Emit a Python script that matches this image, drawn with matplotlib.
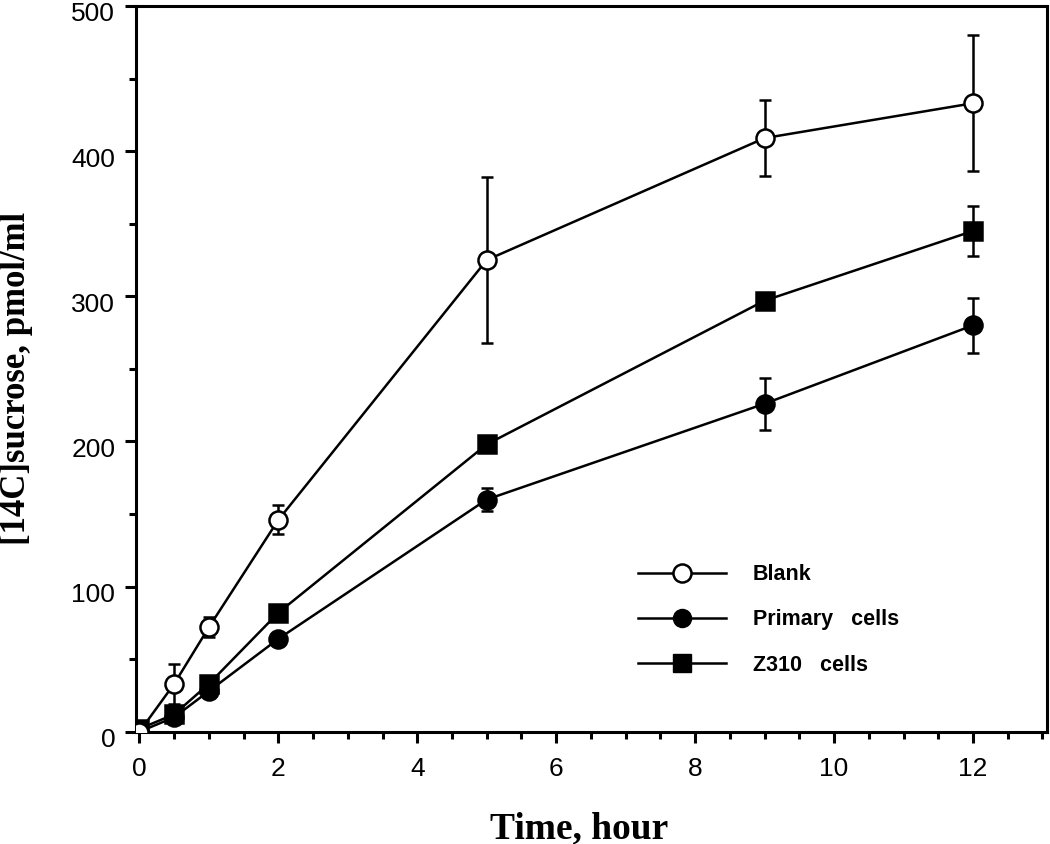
import matplotlib
matplotlib.use("Agg")
import matplotlib.pyplot as plt
import matplotlib.transforms as mtransforms
import numpy as np
from matplotlib.ticker import MultipleLocator
from matplotlib.lines import Line2D

# time points (hours)
time_h = [0, 0.5, 1, 2, 5, 9, 12]

blank = [0, 33, 72, 146, 325, 409, 433]
blank_err = [0, 14, 7, 10, 57, 26, 47]

primary = [0, 10, 28, 64, 160, 226, 280]
primary_err = [0, 0, 0, 0, 8, 18, 19]

z310 = [2, 12, 33, 82, 198, 297, 345]
z310_err = [0, 0, 0, 0, 4, 3, 17]

labels = ["Blank", "Primary   cells", "Z310   cells"]

fig = plt.figure(figsize=(10.5, 8.44), dpi=100)
ax = fig.add_axes([0.1295, 0.1330, 0.8673, 0.8599])

LW = 1.8
common = dict(color="black", lw=LW, markersize=13, ecolor="black",
              elinewidth=LW, capsize=4.5, capthick=LW, mec="black", mew=LW)

ax.errorbar(time_h, z310, yerr=z310_err, marker="s", mfc="black", zorder=3, **common)
ax.errorbar(time_h, primary, yerr=primary_err, marker="o", mfc="black", zorder=4, **common)
ax.errorbar(time_h, blank, yerr=blank_err, marker="o", mfc="white", zorder=5, **common)

ax.set_xlim(-0.05, 13.06)
ax.set_ylim(0, 500)
ax.xaxis.set_major_locator(MultipleLocator(2))
ax.xaxis.set_minor_locator(MultipleLocator(0.5))
ax.yaxis.set_major_locator(MultipleLocator(100))
ax.yaxis.set_minor_locator(MultipleLocator(50))

for s in ax.spines.values():
    s.set_linewidth(2.2)
ax.tick_params(which="major", direction="out", length=8, width=2.2,
               labelsize=19, pad=10)
ax.tick_params(axis="y", which="major", pad=7)
ax.tick_params(which="minor", direction="out", length=5, width=2.2)
for lab in ax.get_xticklabels() + ax.get_yticklabels():
    lab.set_fontfamily("Liberation Sans")

# y tick labels sit a little below their ticks in the original
shift = mtransforms.ScaledTranslation(0, -6 / 100, fig.dpi_scale_trans)
for lab in ax.get_yticklabels():
    lab.set_transform(lab.get_transform() + shift)

# legend drawn from proxy handles
handles = [
    Line2D([], [], color="black", lw=LW, marker="o", mfc="white", mec="black", mew=LW, markersize=13),
    Line2D([], [], color="black", lw=LW, marker="o", mfc="black", mec="black", markersize=13),
    Line2D([], [], color="black", lw=LW, marker="s", mfc="black", mec="black", markersize=13),
]
leg = ax.legend(handles, labels, loc="center left", bbox_to_anchor=(0.551, 0.154),
                frameon=False, handlelength=4.1, handletextpad=1.25, labelspacing=1.12,
                borderpad=0, borderaxespad=0,
                prop={"family": "Liberation Sans", "weight": "bold", "size": 15.5})

fig.text(0.552, 0.007, "Time, hour", ha="center", va="baseline",
         family="Liberation Serif", weight="bold", fontsize=27)
fig.text(0.016, 0.552, "[14C]sucrose, pmol/ml", ha="center", va="center", rotation=90,
         family="Liberation Serif", weight="bold", fontsize=25)

fig.savefig("out.png", dpi=100)
